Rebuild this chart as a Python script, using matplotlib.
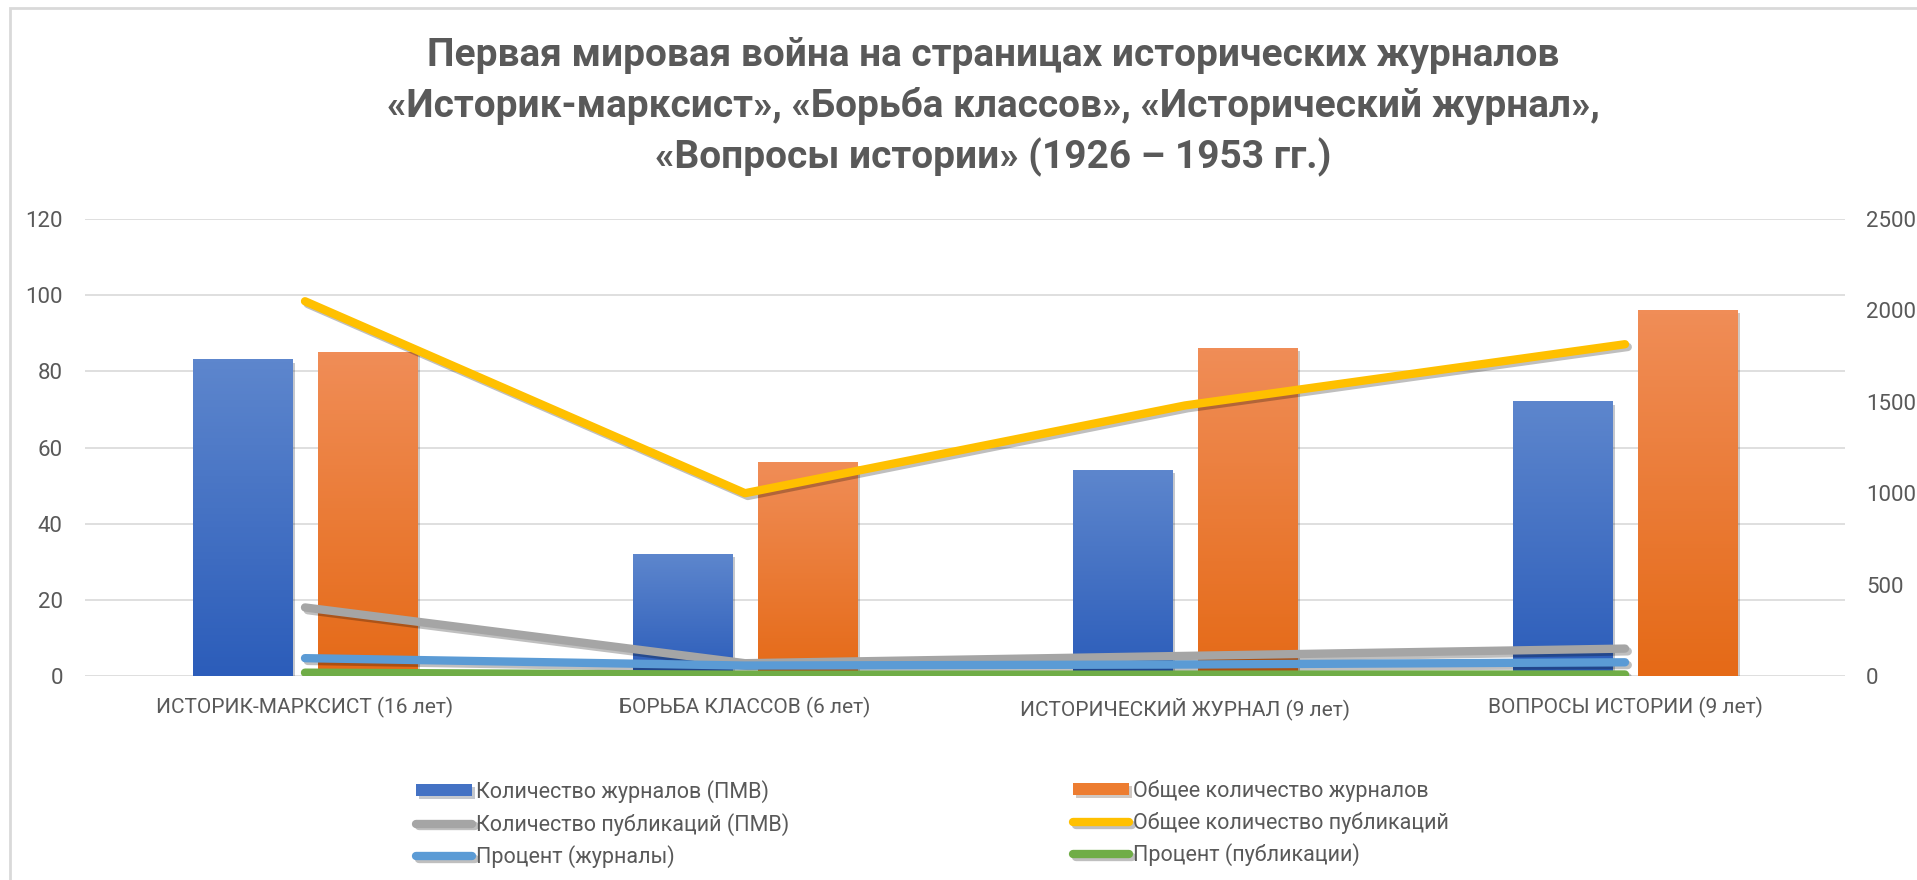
import numpy as np
import matplotlib.pyplot as plt
import matplotlib.patheffects as pe
from matplotlib.colors import LinearSegmentedColormap
from matplotlib.patches import Rectangle

plt.rcParams['font.family'] = ['Roboto', 'DejaVu Sans']

# данные
categories = ["ИСТОРИК-МАРКСИСТ (16 лет)", "БОРЬБА КЛАССОВ (6 лет)",
              "ИСТОРИЧЕСКИЙ ЖУРНАЛ (9 лет)", "ВОПРОСЫ ИСТОРИИ (9 лет)"]
journals_wwi = [83, 32, 54, 72]          # Количество журналов (ПМВ)
journals_total = [85, 56, 86, 96]        # Общее количество журналов
pubs_wwi = [375, 70, 110, 150]           # Количество публикаций (ПМВ)
pubs_total = [2050, 1000, 1480, 1815]    # Общее количество публикаций
pct_journals = [97.6, 57.1, 62.8, 75.0]  # Процент (журналы)
pct_pubs = [18.3, 7.0, 7.4, 8.3]         # Процент (публикации)

left_ticks = [0, 20, 40, 60, 80, 100, 120]
right_ticks = [0, 500, 1000, 1500, 2000, 2500]

title = ("Первая мировая война на страницах исторических журналов\n"
         "«Историк-марксист», «Борьба классов», «Исторический журнал»,\n"
         "«Вопросы истории» (1926 – 1953 гг.)")

text_color = "#595959"
grid_color = "#D9D9D9"

fig = plt.figure(figsize=(19.17, 8.8), dpi=100)
ax = fig.add_axes([85 / 1917, 204 / 880, 1760 / 1917, 457 / 880])
ax2 = ax.twinx()

x = np.arange(len(categories))
w = 0.227
off = 0.142

bar_shadow = [pe.SimplePatchShadow(offset=(2, -2), alpha=0.25, rho=0.3), pe.Normal()]
b1 = ax.bar(x - off, journals_wwi, w, color="#4472C4", zorder=2, path_effects=bar_shadow)
b2 = ax.bar(x + off, journals_total, w, color="#ED7D31", zorder=2, path_effects=bar_shadow)

# градиентная заливка столбцов
grad = np.linspace(0, 1, 100).reshape(-1, 1)
cm_blue = LinearSegmentedColormap.from_list("b", ["#2C5DBA", "#5D86CD"])
cm_orange = LinearSegmentedColormap.from_list("o", ["#E56A17", "#F08D57"])
for bars, cm in ((b1, cm_blue), (b2, cm_orange)):
    for r in bars:
        ax.imshow(grad, extent=[r.get_x(), r.get_x() + r.get_width(), 0, r.get_height()],
                  origin="lower", aspect="auto", cmap=cm, zorder=2.5)

line_shadow = [pe.SimpleLineShadow(offset=(2, -2), alpha=0.25), pe.Normal()]
lw = 6
l_gray, = ax2.plot(x, pubs_wwi, color="#A5A5A5", lw=lw, solid_capstyle="round",
                   path_effects=line_shadow)
l_yel, = ax2.plot(x, pubs_total, color="#FFC000", lw=lw, solid_capstyle="round",
                  path_effects=line_shadow)
l_blue, = ax2.plot(x, pct_journals, color="#5B9BD5", lw=lw, solid_capstyle="round",
                   path_effects=line_shadow)
l_green, = ax2.plot(x, pct_pubs, color="#70AD47", lw=lw, solid_capstyle="round",
                    path_effects=line_shadow)

ax.set_xlim(-0.5, len(categories) - 0.5)
ax.set_ylim(0, 120)
ax2.set_ylim(0, 2500)
ax.set_yticks(left_ticks)
ax2.set_yticks(right_ticks)
ax.set_xticks(x)
ax.set_xticklabels(categories)

ax.grid(axis="y", color=grid_color, lw=1.2, zorder=0)
ax.set_axisbelow(True)
for a in (ax, ax2):
    for s in a.spines.values():
        s.set_visible(False)
ax.tick_params(axis="y", length=0, pad=16, labelsize=16, labelcolor=text_color)
ax2.tick_params(axis="y", length=0, pad=15, labelsize=16, labelcolor=text_color)
ax.tick_params(axis="x", length=0, pad=15, labelsize=15, labelcolor=text_color)

fig.text(993 / 1917, 1 - 107 / 880, title, ha="center", va="center",
         fontsize=28, fontweight="bold", color=text_color, linespacing=1.42)

leg_kw = dict(frameon=False, loc="upper left", fontsize=15.5, borderpad=0,
              borderaxespad=0, handlelength=2.6, handleheight=0.5,
              handletextpad=0.2, labelspacing=0.45, labelcolor=text_color)
fig.legend([b1, l_gray, l_blue],
           ["Количество журналов (ПМВ)", "Количество публикаций (ПМВ)", "Процент (журналы)"],
           bbox_to_anchor=(416 / 1917, 1 - 780 / 880), **leg_kw)
fig.legend([b2, l_yel, l_green],
           ["Общее количество журналов", "Общее количество публикаций", "Процент (публикации)"],
           bbox_to_anchor=(1073 / 1917, 1 - 780 / 880), **leg_kw)

# рамка диаграммы
fig.patches.append(Rectangle((10 / 1917, -0.05), 1.2, 1 - 8 / 880 + 0.05,
                             transform=fig.transFigure, fill=False,
                             edgecolor=grid_color, lw=2))

fig.savefig("out.png", dpi=100)
